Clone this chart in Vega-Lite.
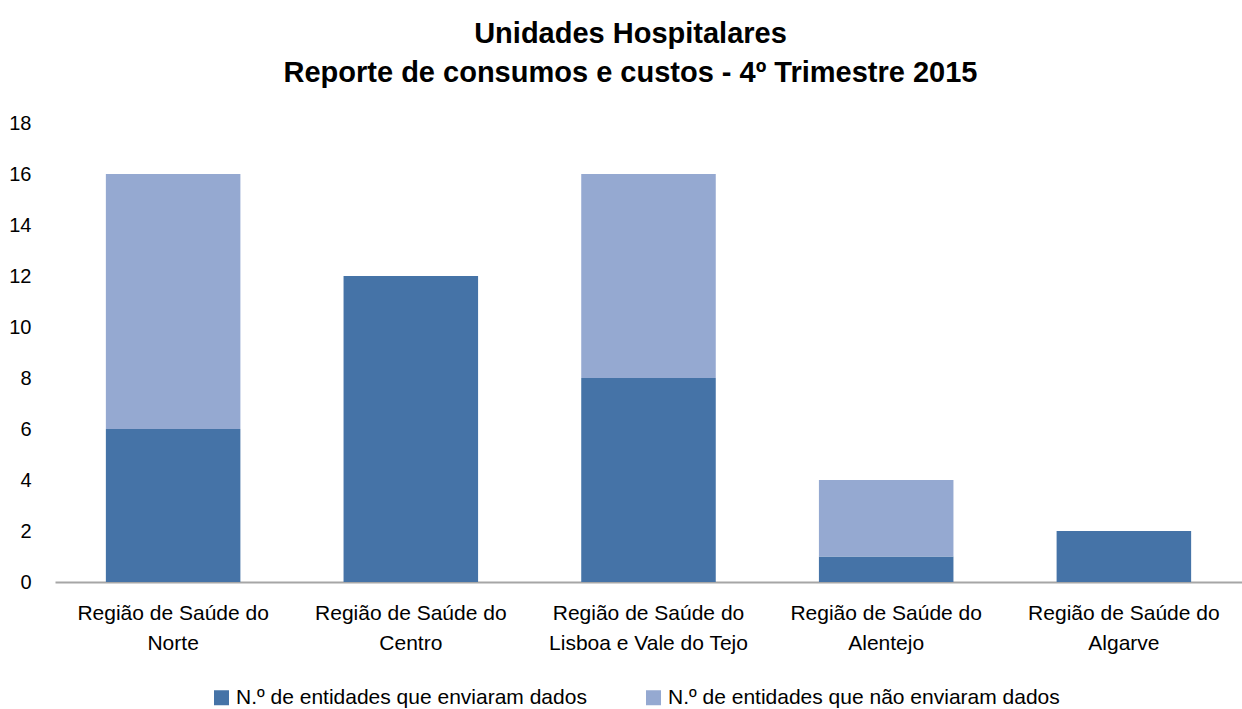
{
  "$schema": "https://vega.github.io/schema/vega-lite/v6.json",
  "autosize": {"type": "none"},
  "padding": {"left": 55, "top": 123, "right": 0, "bottom": 127},
  "width": 1187,
  "height": 459,
  "background": "white",
  "title": {
    "text": ["Unidades Hospitalares", "Reporte de consumos e custos - 4º Trimestre 2015"],
    "font": "Liberation Sans",
    "fontSize": 29,
    "fontWeight": "bold",
    "color": "#000000",
    "lineHeight": 39,
    "anchor": "middle",
    "dx": -18,
    "offset": 25
  },
  "data": {
    "values": [
      {"regiao": "Região de Saúde do Norte", "serie": "N.º de entidades que enviaram dados", "ordem": 1, "valor": 6},
      {"regiao": "Região de Saúde do Norte", "serie": "N.º de entidades que não enviaram dados", "ordem": 2, "valor": 10},
      {"regiao": "Região de Saúde do Centro", "serie": "N.º de entidades que enviaram dados", "ordem": 1, "valor": 12},
      {"regiao": "Região de Saúde do Lisboa e Vale do Tejo", "serie": "N.º de entidades que enviaram dados", "ordem": 1, "valor": 8},
      {"regiao": "Região de Saúde do Lisboa e Vale do Tejo", "serie": "N.º de entidades que não enviaram dados", "ordem": 2, "valor": 8},
      {"regiao": "Região de Saúde do Alentejo", "serie": "N.º de entidades que enviaram dados", "ordem": 1, "valor": 1},
      {"regiao": "Região de Saúde do Alentejo", "serie": "N.º de entidades que não enviaram dados", "ordem": 2, "valor": 3},
      {"regiao": "Região de Saúde do Algarve", "serie": "N.º de entidades que enviaram dados", "ordem": 1, "valor": 2}
    ]
  },
  "mark": {"type": "bar"},
  "encoding": {
    "x": {
      "field": "regiao",
      "type": "nominal",
      "sort": null,
      "scale": {"paddingInner": 0.434, "paddingOuter": 0.214},
      "axis": {
        "title": null,
        "labelAngle": 0,
        "labelFont": "Liberation Sans",
        "labelFontSize": 21,
        "labelColor": "#000000",
        "labelLineHeight": 30,
        "labelPadding": 20,
        "labelLimit": 400,
        "labelExpr": "['Região de Saúde do', replace(datum.label, 'Região de Saúde do ', '')]",
        "ticks": false,
        "domainColor": "#A6A6A6",
        "domainWidth": 2,
        "grid": false
      }
    },
    "y": {
      "field": "valor",
      "type": "quantitative",
      "stack": "zero",
      "scale": {"domain": [0, 18], "nice": false},
      "axis": {
        "title": null,
        "values": [0, 2, 4, 6, 8, 10, 12, 14, 16, 18],
        "labelFont": "Liberation Sans",
        "labelFontSize": 20,
        "labelColor": "#000000",
        "labelPadding": 24,
        "ticks": false,
        "domain": false,
        "grid": false
      }
    },
    "color": {
      "field": "serie",
      "type": "nominal",
      "scale": {
        "domain": ["N.º de entidades que enviaram dados", "N.º de entidades que não enviaram dados"],
        "range": ["#4573A7", "#95A9D1"]
      },
      "legend": {
        "title": null,
        "orient": "none",
        "direction": "horizontal",
        "legendX": 156,
        "legendY": 564,
        "symbolType": "square",
        "symbolSize": 225,
        "symbolStrokeWidth": 0,
        "labelOffset": 4,
        "labelFont": "Liberation Sans",
        "labelFontSize": 21,
        "labelColor": "#000000",
        "columnPadding": 56,
        "labelLimit": 600
      }
    },
    "order": {"field": "ordem", "type": "quantitative"}
  },
  "config": {"view": {"stroke": null}}
}
